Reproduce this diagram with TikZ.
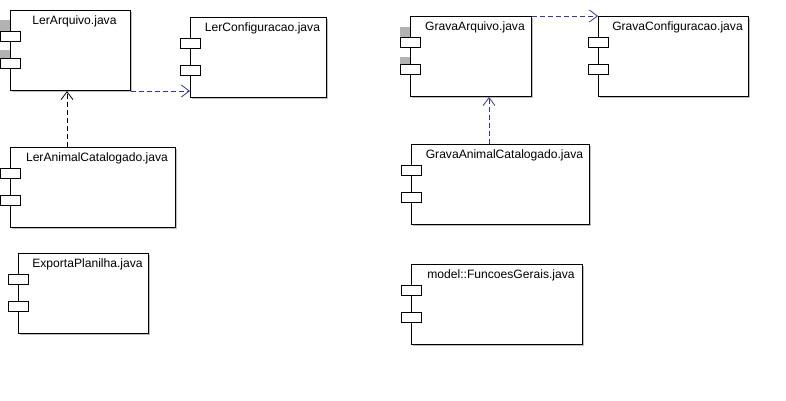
\documentclass[tikz,border=0pt]{standalone}
\usepackage{fontspec}
\setmainfont{Liberation Sans}
\usetikzlibrary{arrows.meta,shadows}
\definecolor{depblue}{RGB}{51,51,153}
\tikzset{
  comp/.style={draw, line width=1pt, fill=white, anchor=north west, minimum height=80pt, inner sep=0pt,
    drop shadow={shadow xshift=1pt, shadow yshift=-1pt, fill=black!25, opacity=1}},
  port/.style={draw, line width=1pt, fill=white, minimum width=20pt, minimum height=10pt, inner sep=0pt, anchor=north},
  dep/.style={dash pattern=on 5pt off 3pt, line width=0.8pt, -{Straight Barb[length=8pt,width=12pt]}},
}
\begin{document}
\begin{tikzpicture}[x=1pt, y=-1pt, font=\fontsize{12.1}{14}\selectfont]
  \useasboundingbox (0,0) rectangle (786,400);
  % grey marks beside the ports
  \fill[gray!60] (0,20) rectangle (10,31);
  \fill[gray!60] (0,50) rectangle (10,58);
  \fill[gray!60] (400,27) rectangle (410,38);
  \fill[gray!60] (400,57) rectangle (410,65);

  \foreach \n/\x/\y/\w/\t in {la/10/10/120/LerArquivo.java,
      lc/190/17/136/LerConfiguracao.java,
      lan/10/147/165/LerAnimalCatalogado.java,
      ep/18/253/130/ExportaPlanilha.java,
      ga/410/16/121/GravaArquivo.java,
      gc/598/16/150/GravaConfiguracao.java,
      gan/411/144/178/GravaAnimalCatalogado.java,
      fg/411/264/171/model::FuncoesGerais.java} {
    \node[comp, minimum width=\w pt] (\n) at (\x,\y) {};
    \node[anchor=base] (\n-txt) at ([xshift=4pt, yshift=-14pt]\n.north) {\t};
    \node[port] (\n-p1) at ([yshift=-21pt]\n.north west) {};
    \node[port] (\n-p2) at ([yshift=-48pt]\n.north west) {};
  }

  \draw[dep, depblue] (la.south east) -- (la.south east -| lc.west);
  \draw[dep] ([xshift=57pt]lan.north west) -- ([xshift=57pt]la.south west);
  \draw[dep, depblue] (ga.north east) -- (gc.north west);
  \draw[dep, depblue] ([xshift=78pt]gan.north west) -- ([xshift=78pt]gan.north west |- ga.south);
\end{tikzpicture}
\end{document}
